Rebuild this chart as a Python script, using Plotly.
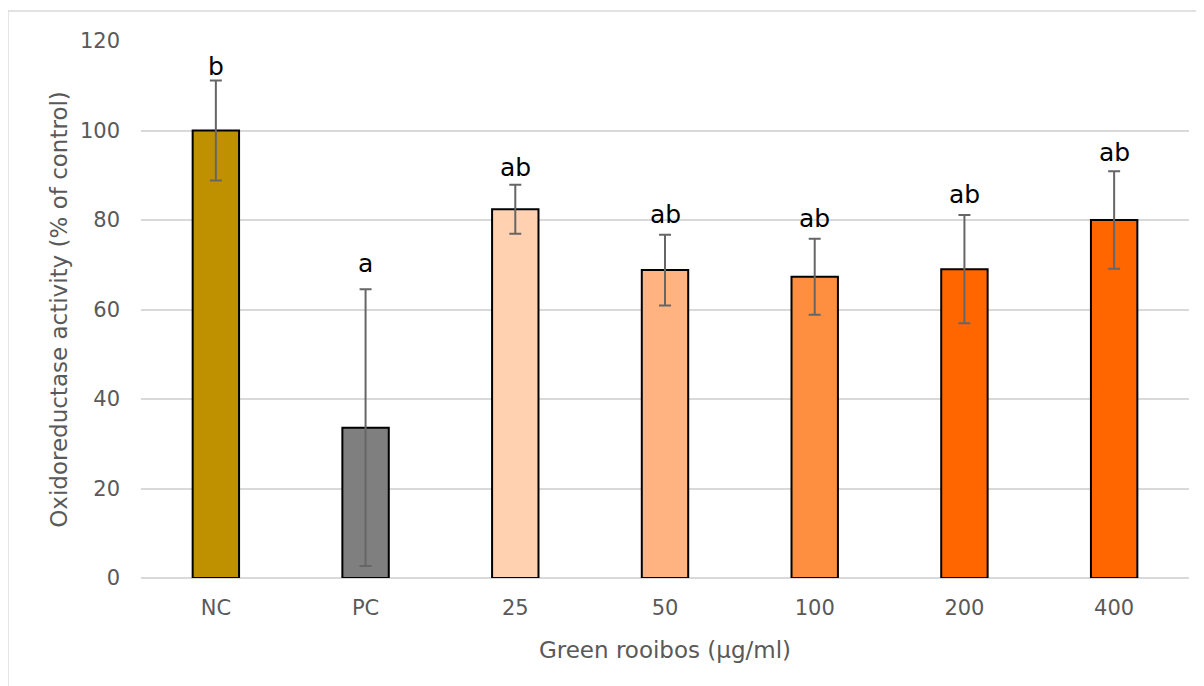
import plotly.graph_objects as go

categories = ["NC", "PC", "25", "50", "100", "200", "400"]
values = [100.0, 33.6, 82.4, 68.8, 67.3, 69.0, 80.0]
errors = [11.2, 30.9, 5.5, 7.9, 8.5, 12.1, 10.9]
letters = ["b", "a", "ab", "ab", "ab", "ab", "ab"]
letter_y = [114.2, 70.2, 91.8, 81.3, 80.4, 85.6, 95.0]
colors = ["#BF9000", "#7F7F7F", "#FFD1B0", "#FFB380", "#FF8F40", "#FF6600", "#FF6600"]
y_ticks = [0, 20, 40, 60, 80, 100, 120]

FONT = "DejaVu Sans"
GREY = "#595959"

fig = go.Figure()
fig.add_trace(go.Bar(
    x=categories, y=values,
    marker=dict(color=colors, line=dict(color="#000000", width=2)),
    width=0.31,
    error_y=dict(type="data", array=errors, visible=True, color="#666666", thickness=2, width=6),
    showlegend=False,
))

for i, (t, ly) in enumerate(zip(letters, letter_y)):
    fig.add_annotation(x=i, y=ly, text=t, showarrow=False,
                       font=dict(family=FONT, size=25, color="#000000"),
                       xanchor="center", yanchor="middle")

# outer chart border
fig.add_shape(type="rect", xref="paper", yref="paper",
              x0=-0.127, x1=1.2, y0=-0.4, y1=1.056,
              line=dict(color="#D9D9D9", width=1.5), fillcolor="rgba(0,0,0,0)", layer="below")

fig.update_layout(
    width=1196, height=678,
    margin=dict(l=133, r=15, t=33, b=108),
    paper_bgcolor="white", plot_bgcolor="white",
    font=dict(family=FONT, color=GREY, size=21),
    xaxis=dict(
        type="category", range=[-0.5, 6.5],
        title=dict(text="Green rooibos (µg/ml)", font=dict(size=23, color=GREY), standoff=22),
        showgrid=False, showline=False, ticks="", zeroline=False,
        tickfont=dict(size=21, color=GREY), ticklabelstandoff=15,
    ),
    yaxis=dict(
        title=dict(text="Oxidoreductase activity (% of control)", font=dict(size=23, color=GREY), standoff=5),
        range=[0, 120], tickvals=y_ticks, showgrid=True, gridcolor="#D9D9D9", gridwidth=1.5,
        zeroline=True, zerolinecolor="#D9D9D9", zerolinewidth=2,
        showline=False, ticks="", tickfont=dict(size=21, color=GREY), ticklabelstandoff=20,
    ),
)

fig.write_html("out.html")
